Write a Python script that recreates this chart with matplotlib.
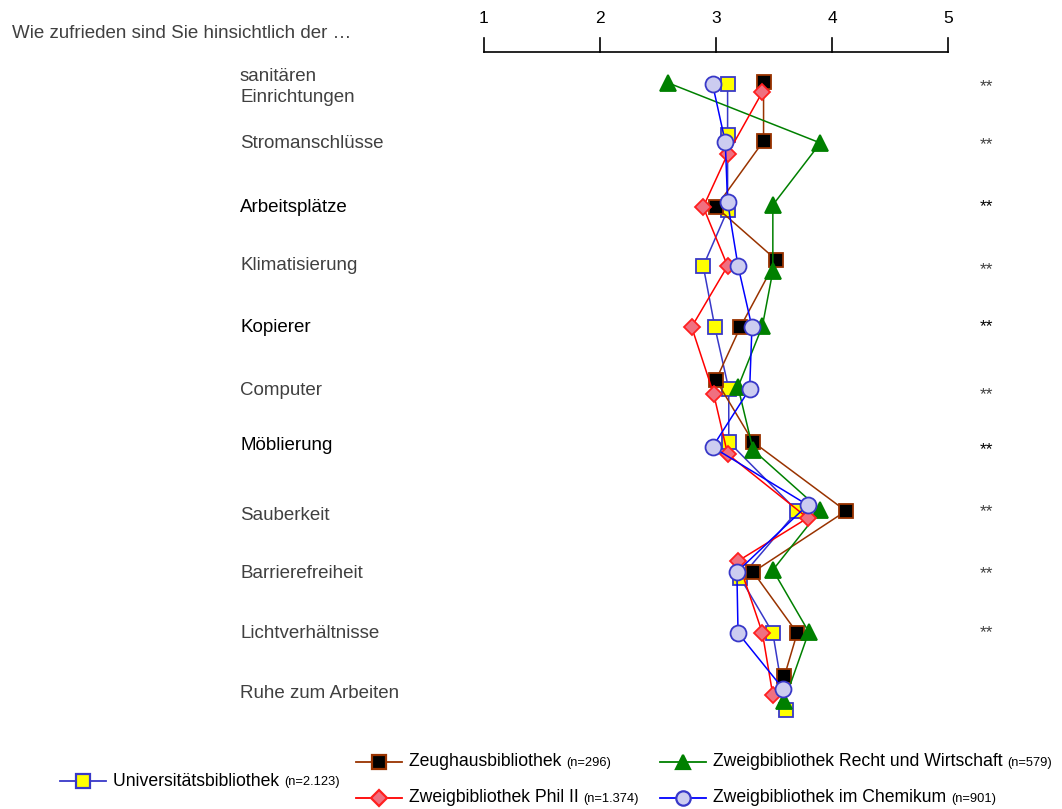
import matplotlib
matplotlib.use('Agg')
import matplotlib.pyplot as plt

plt.rcParams['font.family'] = ['Liberation Sans', 'DejaVu Sans']

# data: mean satisfaction (1 = very satisfied ... 5)
items = ['sanitären\nEinrichtungen', 'Stromanschlüsse', 'Arbeitsplätze', 'Klimatisierung',
         'Kopierer', 'Computer', 'Möblierung', 'Sauberkeit', 'Barrierefreiheit',
         'Lichtverhältnisse', 'Ruhe zum Arbeiten']
signif = ['**', '**', '**', '**', '**', '**', '**', '**', '**', '**', '']
highlight = [False, False, True, False, True, False, True, False, False, False, False]

uni = [3.10, 3.10, 3.10, 2.89, 2.99, 3.11, 3.11, 3.70, 3.21, 3.49, 3.60]
zeughaus = [3.41, 3.41, 3.00, 3.52, 3.21, 3.00, 3.32, 4.12, 3.32, 3.70, 3.59]
recht = [2.59, 3.90, 3.49, 3.49, 3.40, 3.19, 3.32, 3.90, 3.49, 3.80, 3.59]
phil = [3.40, 3.10, 2.89, 3.10, 2.79, 2.98, 3.10, 3.79, 3.19, 3.40, 3.49]
chemikum = [2.97, 3.08, 3.10, 3.19, 3.31, 3.29, 2.97, 3.79, 3.18, 3.19, 3.58]

series = [
    ('Universitätsbibliothek', '(n=2.123)', uni),
    ('Zeughausbibliothek', '(n=296)', zeughaus),
    ('Zweigbibliothek Recht und Wirtschaft', '(n=579)', recht),
    ('Zweigbibliothek Phil II', '(n=1.374)', phil),
    ('Zweigbibliothek im Chemikum', '(n=901)', chemikum),
]

# layout (figure pixels)
W, H = 1062, 809
row_y = [83, 143, 207, 266, 327, 389, 444, 511, 572, 633, 690]
label_y = [87, 143, 207, 265, 327, 390, 445, 515, 574, 634, 694]
star_y = [87, 145, 207, 270, 327, 395, 450, 512, 574, 633, 690]
styles = [
    dict(color='#3838c8', marker='s', mfc='#ffff00', mec='#3838c8', ms=10.5,
         dy=[1, -8, 3, 0, 0, 0, -2, 0, 6, 0, 20]),
    dict(color='#993300', marker='s', mfc='#000000', mec='#993300', ms=10.5,
         dy=[-1, -2, 0, -6, 0, -9, -2, 0, 0, 0, -14]),
    dict(color='#008000', marker='^', mfc='#008000', mec='#008000', ms=11.5,
         dy=[0, 0, -2, 5, -1, -2, 6, -1, -2, -1, 11]),
    dict(color='#ff0000', marker='D', mfc='#f07080', mec='#ff2020', ms=8.5,
         dy=[9, 11, 0, 0, 0, 5, 10, 7, -11, 0, 5]),
    dict(color='#0000ff', marker='o', mfc='#ccccf0', mec='#3838c8', ms=11.5,
         dy=[1, -1, -5, 0, 0, 0, 3, -6, 0, 0, -1]),
]
legend_pos = [(83, 781), (379, 762), (683, 762), (379, 798), (683, 798)]

fig = plt.figure(figsize=(W / 100, H / 100), dpi=100)

# overlay axes in pixel units for texts and legend
ov = fig.add_axes([0, 0, 1, 1])
ov.set_xlim(0, W)
ov.set_ylim(H, 0)
ov.axis('off')

# data axes: x from 1 to 5 between pixel 484 and 948
x0, x1 = 484, 948
ax = fig.add_axes([x0 / W, 0, (x1 - x0) / W, 1])
ax.set_xlim(1, 5)
ax.set_ylim(H, 0)
ax.axis('off')

# scale on top
scale_y = 52
ax.plot([1, 5], [scale_y, scale_y], color='black', lw=1.2, clip_on=False)
for t in range(1, 6):
    ax.plot([t, t], [scale_y, scale_y - 14], color='black', lw=1.2, clip_on=False)
    ax.text(t, 18, str(t), ha='center', va='center', fontsize=12.5, color='black')

ov.text(12, 33, 'Wie zufrieden sind Sie hinsichtlich der …', ha='left', va='center',
        fontsize=13.5, color='#404040')

for lab, ly, hl, st, sy in zip(items, label_y, highlight, signif, star_y):
    col = 'black' if hl else '#404040'
    ov.text(240, ly, lab, ha='left', va='center', fontsize=13.5, color=col, linespacing=1.25)
    if st:
        ov.text(986, sy, st, ha='center', va='center', fontsize=12.5, color=col)

for (name, n, vals), s in zip(series, styles):
    ys = [y + d for y, d in zip(row_y, s['dy'])]
    ax.plot(vals, ys, color=s['color'], lw=1.1, marker=s['marker'], ms=s['ms'],
            mfc=s['mfc'], mec=s['mec'], mew=1.3, clip_on=False)

# legend
fig.canvas.draw()
for (name, n, vals), s, (lx, ly) in zip(series, styles, legend_pos):
    ov.plot([lx - 23, lx + 23], [ly, ly], color=s['color'], lw=1.3)
    ov.plot([lx], [ly], marker=s['marker'], ms=s['ms'] * 0.9, mfc=s['mfc'], mec=s['mec'],
            mew=1.6, color=s['color'])
    t = ov.text(lx + 30, ly, name + ' ', ha='left', va='center', fontsize=12.7, color='black')
    bb = t.get_window_extent(renderer=fig.canvas.get_renderer())
    ov.text(lx + 30 + bb.width, ly + 1, n, ha='left', va='center', fontsize=9.3, color='black')

fig.savefig('out.png', dpi=100)
